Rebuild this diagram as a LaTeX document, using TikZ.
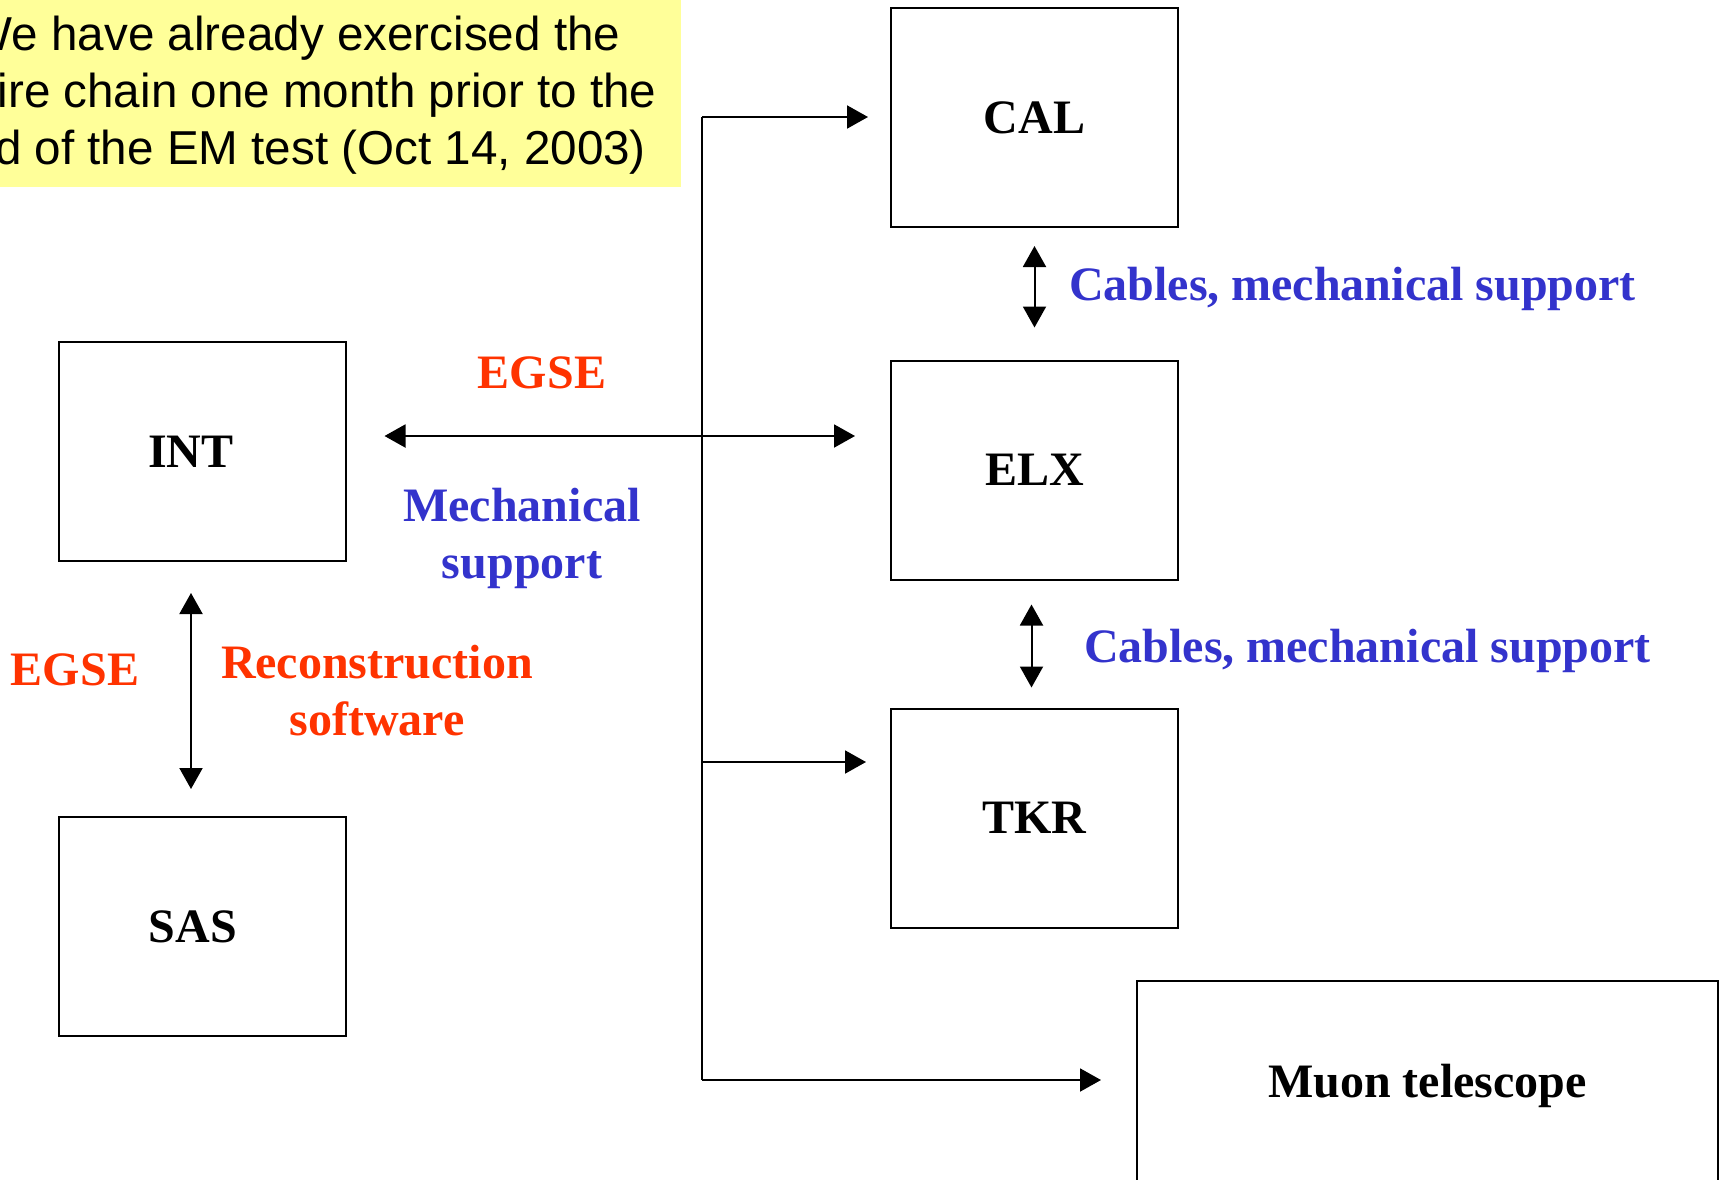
\documentclass[tikz,border=0pt]{standalone}
\usepackage{fontspec}
\setmainfont{Liberation Serif}
\setsansfont{Liberation Sans}
\usetikzlibrary{arrows.meta}
\definecolor{egsered}{RGB}{255,51,0}
\definecolor{mechblue}{RGB}{51,51,204}
\definecolor{noteyellow}{RGB}{255,255,153}
\tikzset{unit/.style={draw,rectangle,line width=1pt,minimum width=143.5pt,minimum height=109.5pt,font=\bfseries\fontsize{24}{28.5}\selectfont}}
\tikzset{lbl/.style={inner sep=0pt,align=center,font=\bfseries\fontsize{24}{28.5}\selectfont}}
\tikzset{note/.style={inner sep=0pt,align=center,font=\sffamily\fontsize{23.8}{28.5}\selectfont}}

\begin{document}
\begin{tikzpicture}[x=0.5pt,y=-0.5pt,line width=1pt,>={Triangle[length=10.5pt,width=11.5pt]}]
		\useasboundingbox (0,0) rectangle (1720,1179);
		\clip (0,0) rectangle (1720,1179);
		
		\fill[noteyellow] (-100,-10) rectangle (681,186.5);
		\node[note] (memo) at (294,95) {We have already exercised the\\entire chain one month prior to the\\end of the EM test (Oct 14, 2003)};
		
		\node[unit] (CAL) at (1034.5,117.5) {CAL};
		\node[unit] (ELX) at (1034.5,470) {ELX};
		\node[unit] (TKR) at (1034.5,818) {TKR};
		\node[unit] (INT) at (202,451.5) {\kern-11pt INT};
		\node[unit] (SAS) at (202,926.5) {\kern-9pt SAS};
		\node[unit, minimum width=290.5pt, minimum height=104.5pt] (muon) at (1427.5,1085.5) {Muon telescope};
		
		\coordinate (top) at (702,117);
		\coordinate (bot) at (702,1080);
		\coordinate (tkrin) at (702,762);
		\coordinate (bus) at (702,436);
		
		\draw (top) -- (bot);
		\draw[->, shorten >=11pt] (top) -- (top -| CAL.west);
		\draw[->, shorten >=12pt] (tkrin) -- (tkrin -| TKR.west);
		\draw[->, shorten >=17.5pt] (bot) -- (bot -| muon.west);
		\draw[<->, shorten <=19pt, shorten >=17.5pt] (bus -| INT.east) -- (bus -| ELX.west);
		
		\draw[<->, shorten <=9pt, shorten >=16pt] (CAL.south) -- (ELX.north);
		\draw[<->, shorten <=12pt, shorten >=10pt] ([xshift=-1.5pt]ELX.south) -- ([xshift=-1.5pt]TKR.north);
		\draw[<->, shorten <=15.5pt, shorten >=13.5pt] ([xshift=-5.5pt]INT.south) -- ([xshift=-5.5pt]SAS.north);
		
		\node[lbl, text=egsered] (egsebus) at (542,373) {EGSE};
		\node[lbl, text=mechblue] (mech) at (522,538) {Mechanical\\support};
		\node[lbl, text=egsered] (egsesas) at (75,670) {EGSE};
		\node[lbl, text=egsered] (reco) at (377,691) {Reconstruction\\software};
		\node[lbl, text=mechblue, anchor=west] (cab1) at (1068,289) {Cables, mechanical support};
		\node[lbl, text=mechblue, anchor=west] (cab2) at (1083,651) {Cables, mechanical support};
\end{tikzpicture}
\end{document}
